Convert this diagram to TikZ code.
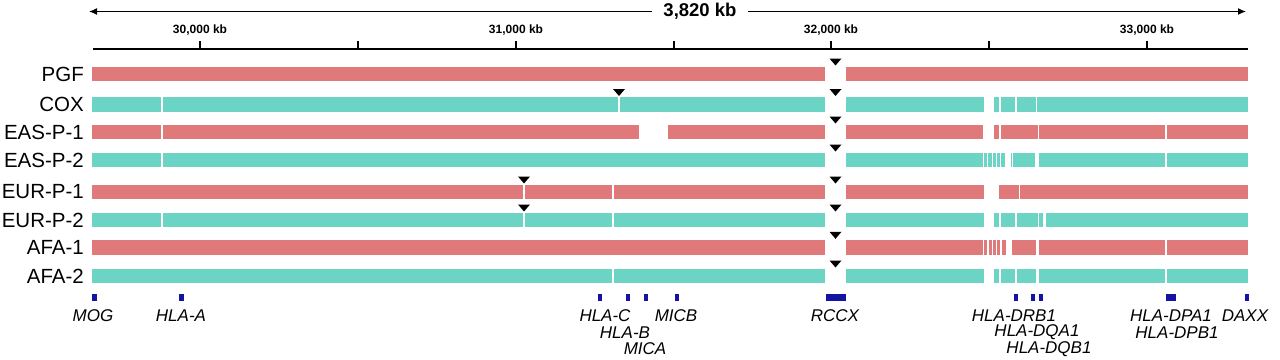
\documentclass[tikz,border=0pt]{standalone}
\usepackage{fontspec}
\setmainfont{Liberation Sans}
\usetikzlibrary{arrows.meta}

\definecolor{hapred}{HTML}{E07A7A}
\definecolor{hapteal}{HTML}{6CD4C4}
\definecolor{geneblue}{HTML}{1414A0}

\tikzset{
  rowlab/.style={anchor=east, inner sep=0pt, font=\fontsize{20.5}{23}\selectfont},
  genelab/.style={inner sep=0pt, font=\fontsize{17}{19}\selectfont\itshape},
  kblab/.style={inner sep=0pt, font=\fontsize{12}{14}\selectfont\bfseries},
  spanlab/.style={inner xsep=11pt, inner ysep=0pt, font=\fontsize{18.5}{20}\selectfont\bfseries},
  brk/.style={fill=black},
  genebox/.style={fill=geneblue}
}

% white cut lines / gaps inside a bar
\newcommand{\cutat}[2]{\fill[white] (#1-0.65,#2-7.5) rectangle (#1+0.65,#2+7.5);}
\newcommand{\gapat}[3]{\fill[white] (#1,#3-7.5) rectangle (#2,#3+7.5);}
\newcommand{\brkat}[2]{\fill[brk] (#1-6,#2-15.5) -- (#1+6,#2-15.5) -- (#1,#2-8.5) -- cycle;}

\begin{document}
\begin{tikzpicture}[x=1pt, y=-1pt]
  \useasboundingbox (0,0) rectangle (1280,359);

  % scale
  \node[spanlab] (span) at (700,11.5) {3,820 kb};
  \coordinate (spanL) at (89,11.5);
  \coordinate (spanR) at (1246,11.5);
  \draw[line width=1.2pt, -{Latex[length=8pt,width=7pt]}] (span) -- (spanL);
  \draw[line width=1.2pt, -{Latex[length=8pt,width=7pt]}] (span) -- (spanR);

  \coordinate (axL) at (93,49);
  \coordinate (axR) at (1248,49);
  \draw[line width=1.6pt] (axL) -- (axR);
  \foreach \x in {200,358,516,674,831,989,1147}
    \draw[line width=2.6pt] (\x,41) -- (\x,49);
  \node[kblab] (kb30) at (200,30) {30,000 kb};
  \node[kblab] (kb31) at (516,30) {31,000 kb};
  \node[kblab] (kb32) at (831,30) {32,000 kb};
  \node[kblab] (kb33) at (1147,30) {33,000 kb};

  % haplotype bars
  \foreach \name/\y/\col [count=\i] in {PGF/74/hapred, COX/104.5/hapteal,
      EAS-P-1/132/hapred, EAS-P-2/160/hapteal, EUR-P-1/192/hapred,
      EUR-P-2/220/hapteal, AFA-1/247.3/hapred, AFA-2/276/hapteal}{
    \fill[\col] (92,\y-7.3) rectangle (825,\y+7.3);
    \fill[\col] (846,\y-7.3) rectangle (1248,\y+7.3);
    \brkat{835.5}{\y}
    \node[rowlab] (row\i) at (84,\y) {\name};
  }

  % COX
  \foreach \x in {162,619,1000,1016,1036.7} {\cutat{\x}{104.5}}
  \gapat{984.3}{993.7}{104.5}
  \brkat{619}{104.5}
  % EAS-P-1
  \foreach \x in {162,1000,1038.7,1166} {\cutat{\x}{132}}
  \gapat{639.3}{668.3}{132}
  \gapat{983.3}{993.7}{132}
  % EAS-P-2
  \foreach \x in {162,983.5,987.8,992.2,996.5,1000.8,1012.5,1166} {\cutat{\x}{160}}
  \gapat{1005}{1010.5}{160}
  \gapat{1035}{1039.3}{160}
  % EUR-P-1
  \foreach \x in {524,613,1019.3} {\cutat{\x}{192}}
  \gapat{984.3}{998.7}{192}
  \brkat{524}{192}
  % EUR-P-2
  \foreach \x in {162,524,613,1000,1016,1038.3} {\cutat{\x}{220}}
  \gapat{984.3}{993.7}{220}
  \gapat{1042.7}{1046}{220}
  \brkat{524}{220}
  % AFA-1
  \foreach \x in {983.5,988,992.2,996.5,1001,1166} {\cutat{\x}{247.3}}
  \gapat{1005.5}{1011.7}{247.3}
  \gapat{1036}{1039.3}{247.3}
  % AFA-2
  \foreach \x in {613,1000,1016,1166} {\cutat{\x}{276}}
  \gapat{984.3}{993.7}{276}
  \gapat{1036}{1038.7}{276}

  % genes
  \foreach \a/\b in {91.7/96.7, 179.3/184.3, 597.5/601.5, 625.5/629.5,
      644/648, 674.5/678.5, 826/846, 1014/1018, 1030.5/1034.5,
      1038.5/1042.5, 1166/1176, 1244.5/1249}
    \fill[genebox] (\a,293.5) rectangle (\b,300.5);

  \node[genelab] (mog)  at (93,316)    {MOG};
  \node[genelab] (hlaa) at (181,316)   {HLA-A};
  \node[genelab] (hlac) at (605,316)   {HLA-C};
  \node[genelab] (hlab) at (625,332.5) {HLA-B};
  \node[genelab] (mica) at (645,349)   {MICA};
  \node[genelab] (micb) at (676,316)   {MICB};
  \node[genelab] (rccx) at (835,316)   {RCCX};
  \node[genelab] (drb1) at (1014,316)  {HLA-DRB1};
  \node[genelab] (dqa1) at (1037,332.5) {HLA-DQA1};
  \node[genelab] (dqb1) at (1049,349)  {HLA-DQB1};
  \node[genelab] (dpa1) at (1171,316)  {HLA-DPA1};
  \node[genelab] (dpb1) at (1177,332.5) {HLA-DPB1};
  \node[genelab] (daxx) at (1245,316)  {DAXX};
\end{tikzpicture}
\end{document}
